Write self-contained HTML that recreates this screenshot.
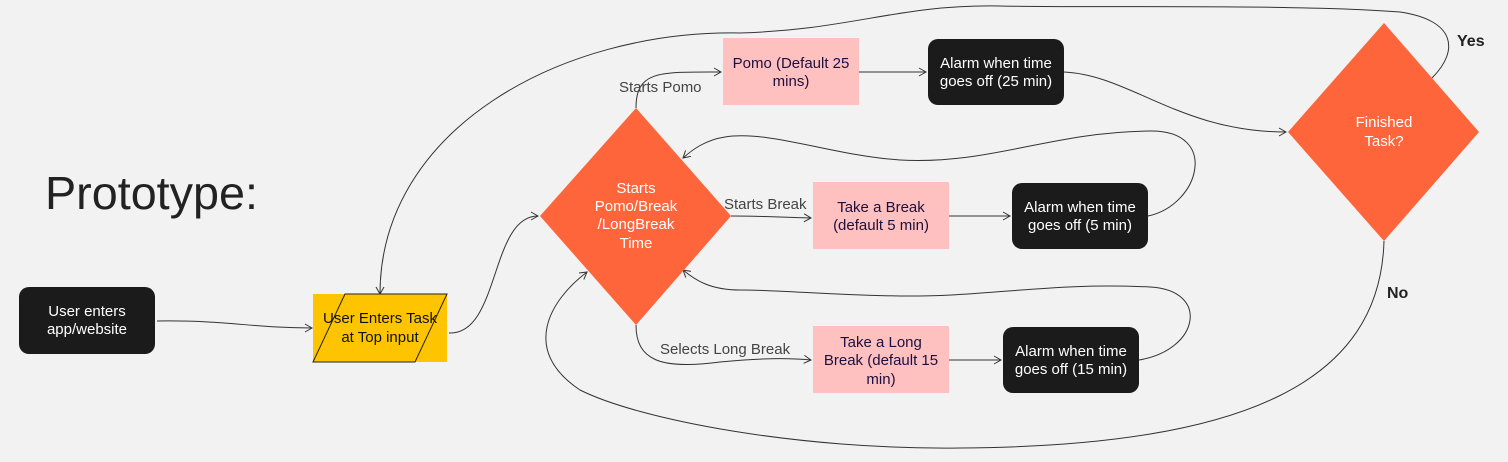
<!DOCTYPE html>
<html><head><meta charset="utf-8"><style>
body{margin:0;width:1508px;height:462px;background:#f2f2f2;overflow:hidden;font-family:"Liberation Sans",sans-serif}
svg{position:absolute;left:0;top:0}
.n{font-family:"Liberation Sans Narrow","Liberation Sans",sans-serif}
</style></head><body>
<svg width="1508" height="462" viewBox="0 0 1508 462">
<defs><marker id="a" markerWidth="10" markerHeight="10" refX="8" refY="5" orient="auto" markerUnits="userSpaceOnUse"><path d="M1,1 L8,5 L1,9" fill="none" stroke="#333" stroke-width="1"/></marker></defs>
<g fill="none" stroke="#333" stroke-width="1" marker-end="url(#a)">
<path d="M157,321 C230,320 250,328 312,328"/>
<path d="M449,333 C500,335 490,216 538,216"/>
<path d="M636,108 C636,70 660,72 721,72"/>
<path d="M859,72 L926,72"/>
<path d="M1064,72 C1130,75 1180,132 1286,132"/>
<path d="M1432,78 C1460,50 1455,20 1400,12 C1300,4 1100,8 1000,6 C900,4 850,30 740,33 C560,30 380,130 380,294"/>
<path d="M731,216 C760,216 780,217 811,218"/>
<path d="M949,216 L1010,216"/>
<path d="M1148,216 C1200,205 1220,130 1150,131 C1050,132 990,165 900,160 C830,155 770,130 725,137 C705,140 692,150 683,158"/>
<path d="M636,325 C636,360 660,370 720,362 C760,358 790,358 811,360"/>
<path d="M949,360 L1001,360"/>
<path d="M1139,360 C1200,350 1210,290 1150,287 C1050,282 990,297 900,296 C830,295 780,290 740,290 C710,290 695,280 683,270"/>
<path d="M1384,241 C1380,380 1250,446 960,448 C800,450 640,420 580,390 C520,350 550,300 587,272"/>
</g>
<rect x="19" y="287" width="136" height="67" rx="10" fill="#1b1b1b"/>
<rect x="313" y="294" width="134" height="68" fill="#ffc400"/>
<path d="M345,294 L447,294 L415,362 L313,362 Z" fill="none" stroke="#222" stroke-width="1"/>
<polygon points="636,108 731,216 636,325 540,216" fill="#ff653b"/>
<polygon points="1384,23 1479,132 1384,241 1288,132" fill="#ff653b"/>
<rect x="723" y="38" width="136" height="67" fill="#ffc0c0"/>
<rect x="813" y="182" width="136" height="67" fill="#ffc0c0"/>
<rect x="813" y="326" width="136" height="67" fill="#ffc0c0"/>
<rect x="928" y="39" width="136" height="66" rx="10" fill="#1b1b1b"/>
<rect x="1012" y="183" width="136" height="66" rx="10" fill="#1b1b1b"/>
<rect x="1003" y="327" width="136" height="66" rx="10" fill="#1b1b1b"/>
<g class="n" font-size="15" text-anchor="middle" fill="#fff">
<text x="87" y="316">User enters</text><text x="87" y="334">app/website</text>
<text x="636" y="193">Starts</text><text x="636" y="211">Pomo/Break</text><text x="636" y="229">/LongBreak</text><text x="636" y="248">Time</text>
<text x="1384" y="127">Finished</text><text x="1384" y="146">Task?</text>
<text x="996" y="68">Alarm when time</text><text x="996" y="86">goes off (25 min)</text>
<text x="1080" y="212">Alarm when time</text><text x="1080" y="230">goes off (5 min)</text>
<text x="1071" y="356">Alarm when time</text><text x="1071" y="374">goes off (15 min)</text>
</g>
<g class="n" font-size="15" text-anchor="middle" fill="#1a1040">
<text x="380" y="323" fill="#111">User Enters Task</text><text x="380" y="342" fill="#111">at Top input</text>
<text x="791" y="68">Pomo (Default 25</text><text x="791" y="86">mins)</text>
<text x="881" y="212">Take a Break</text><text x="881" y="230">(default 5 min)</text>
<text x="881" y="347">Take a Long</text><text x="881" y="365">Break (default 15</text><text x="881" y="384">min)</text>
</g>
<g font-size="15" fill="#444">
<text x="619" y="92">Starts Pomo</text>
<text x="724" y="209">Starts Break</text>
<text x="660" y="354">Selects Long Break</text>
</g>
<g font-size="16" font-weight="bold" fill="#222">
<text x="1457" y="46">Yes</text>
<text x="1387" y="298">No</text>
</g>
<text x="45" y="209" font-size="46" fill="#222" textLength="213" lengthAdjust="spacingAndGlyphs">Prototype:</text>
</svg>
</body></html>
